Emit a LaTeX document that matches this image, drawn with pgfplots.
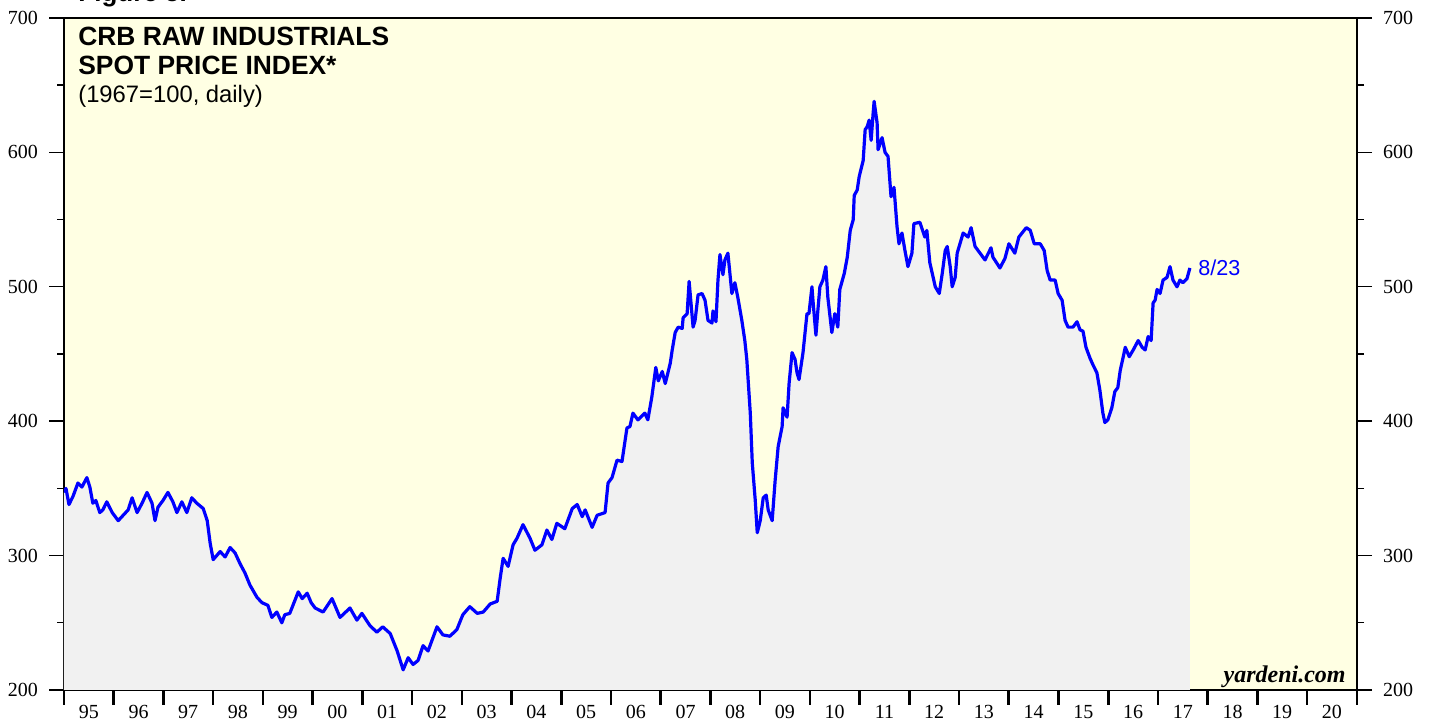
\documentclass[border=0pt]{standalone}
\usepackage{fontspec}
\setmainfont{Liberation Serif}
\newfontfamily\sansf{Liberation Sans}
\usepackage{pgfplots}
\usepackage{pgfplotstable}
\pgfplotsset{compat=1.18}
\definecolor{bgyellow}{RGB}{255,255,227}
\definecolor{fillgray}{RGB}{241,241,241}
\definecolor{lineblue}{RGB}{0,0,255}
\pgfplotstableread{
year val
1995.00 347
1995.04 350
1995.10 338
1995.18 344
1995.28 354
1995.36 351
1995.46 358
1995.52 351
1995.58 339
1995.64 341
1995.72 332
1995.78 334
1995.86 340
1995.97 332
1996.09 326
1996.19 330
1996.29 334
1996.37 343
1996.47 332
1996.57 339
1996.67 347
1996.77 339
1996.83 326
1996.89 336
1996.99 341
1997.09 347
1997.19 340
1997.27 332
1997.37 340
1997.47 332
1997.57 343
1997.67 339
1997.80 335
1997.88 326
1997.94 309
1998.00 297
1998.14 303
1998.24 299
1998.34 306
1998.44 302
1998.54 294
1998.64 287
1998.74 278
1998.88 269
1998.98 265
1999.10 263
1999.18 254
1999.28 258
1999.38 250
1999.44 256
1999.54 257
1999.71 273
1999.79 268
1999.89 272
1999.97 265
2000.05 261
2000.21 258
2000.39 268
2000.55 254
2000.75 261
2000.89 252
2000.99 257
2001.15 248
2001.29 243
2001.41 247
2001.56 242
2001.70 229
2001.82 215
2001.92 224
2002.02 219
2002.12 222
2002.22 233
2002.32 229
2002.50 247
2002.62 241
2002.76 240
2002.90 245
2003.02 256
2003.16 262
2003.31 257
2003.43 258
2003.57 264
2003.71 266
2003.77 283
2003.83 298
2003.93 292
2004.03 308
2004.11 313
2004.23 323
2004.37 313
2004.47 304
2004.61 308
2004.71 319
2004.81 312
2004.91 324
2005.07 320
2005.22 335
2005.32 338
2005.42 329
2005.48 334
2005.62 321
2005.72 330
2005.88 332
2005.94 354
2006.02 358
2006.12 371
2006.22 370
2006.32 395
2006.38 396
2006.44 406
2006.54 401
2006.68 406
2006.74 401
2006.82 418
2006.90 440
2006.95 430
2007.03 437
2007.09 428
2007.19 443
2007.23 453
2007.29 466
2007.35 470
2007.43 469
2007.45 477
2007.53 480
2007.57 504
2007.65 470
2007.69 475
2007.75 494
2007.83 495
2007.89 490
2007.95 475
2008.03 473
2008.05 482
2008.11 474
2008.15 505
2008.19 524
2008.25 509
2008.29 520
2008.35 525
2008.43 495
2008.49 503
2008.55 492
2008.63 475
2008.69 460
2008.73 446
2008.80 406
2008.84 369
2008.90 341
2008.94 317
2009.00 326
2009.06 343
2009.12 345
2009.16 334
2009.24 326
2009.30 356
2009.36 381
2009.44 396
2009.46 410
2009.54 403
2009.58 428
2009.64 451
2009.70 446
2009.74 436
2009.78 431
2009.86 451
2009.94 480
2009.98 480
2010.04 500
2010.06 490
2010.12 464
2010.16 483
2010.20 500
2010.26 505
2010.32 515
2010.36 492
2010.44 466
2010.50 480
2010.56 470
2010.60 498
2010.69 510
2010.75 522
2010.81 542
2010.87 550
2010.89 568
2010.95 572
2010.99 582
2011.07 594
2011.11 617
2011.15 619
2011.19 624
2011.23 609
2011.27 629
2011.29 638
2011.35 622
2011.37 602
2011.45 611
2011.51 600
2011.57 597
2011.63 567
2011.69 574
2011.75 545
2011.79 532
2011.85 540
2011.91 527
2011.97 515
2012.05 525
2012.09 547
2012.21 548
2012.31 537
2012.35 542
2012.41 518
2012.52 500
2012.60 495
2012.66 510
2012.72 527
2012.76 530
2012.82 515
2012.86 500
2012.92 507
2012.96 525
2013.08 540
2013.18 537
2013.24 544
2013.32 530
2013.42 525
2013.52 520
2013.64 529
2013.68 522
2013.82 514
2013.92 521
2014.00 532
2014.12 525
2014.20 537
2014.35 544
2014.43 542
2014.51 532
2014.63 532
2014.71 527
2014.77 512
2014.83 505
2014.93 505
2014.99 495
2015.07 490
2015.13 475
2015.19 470
2015.29 470
2015.37 474
2015.43 468
2015.49 467
2015.55 455
2015.63 447
2015.69 442
2015.77 436
2015.83 423
2015.89 406
2015.93 399
2015.99 401
2016.07 410
2016.13 422
2016.19 425
2016.24 438
2016.30 448
2016.34 455
2016.42 448
2016.50 453
2016.60 460
2016.68 455
2016.74 453
2016.80 463
2016.86 460
2016.90 488
2016.94 490
2016.98 498
2017.04 495
2017.10 505
2017.18 507
2017.24 515
2017.30 505
2017.38 500
2017.44 505
2017.50 503
2017.58 506
2017.64 514
}\crb
\begin{document}
\begin{tikzpicture}
\useasboundingbox (-32pt,-15.5pt) rectangle (682.5pt,345pt);
\pgfplotsset{
  common/.style={
    at={(0,0)}, anchor=south west,
    scale only axis, width=646.5pt, height=336pt,
    xmin=1995, xmax=2021, ymin=200, ymax=700,
    ytick={200,300,...,700},
    minor ytick={250,350,...,650},
    tick align=outside,
    major tick length=7.5pt, minor tick length=3.5pt,
    every tick/.style={black, line width=0.7pt},
    /pgf/number format/assume math mode=true,
    ticklabel style={font=\fontsize{10}{12}\selectfont},
  }
}
\begin{axis}[common,
    axis background/.style={fill=bgyellow},
    axis line style={line width=1.3pt},
    xtick={1995,...,2021},
    xticklabels={95,96,97,98,99,00,01,02,03,04,05,06,07,08,09,10,11,12,13,14,15,16,17,18,19,20,{}},
    xtick pos=bottom,
    xtick style={line width=1.3pt},
    xticklabel style={anchor=north, xshift=12.4pt, yshift=3.5pt},
    ytick pos=left,
    yticklabel pos=left,
    yticklabel style={xshift=-2pt},
    clip=true,
  ]
  \addplot[fill=fillgray, draw=none] table[x=year, y=val] {\crb} \closedcycle;
  \addplot[lineblue, line width=1.6pt, line join=round] table[x=year, y=val] {\crb};
  \node[anchor=base west, inner sep=0pt, font=\sansf\bfseries\fontsize{13.2}{15}\selectfont] at (axis cs:1995.28,679.2) {CRB RAW INDUSTRIALS};
  \node[anchor=base west, inner sep=0pt, font=\sansf\bfseries\fontsize{13.2}{15}\selectfont] at (axis cs:1995.28,657.6) {SPOT PRICE INDEX*};
  \node[anchor=base west, inner sep=0pt, font=\sansf\fontsize{11.9}{14}\selectfont] at (axis cs:1995.28,637.0) {(1967=100, daily)};
  \node[anchor=west, inner sep=0pt, text=lineblue, font=\sansf\fontsize{10.8}{13}\selectfont] at (axis cs:2017.64,514) {\hspace{4pt}8/23};
  \node[anchor=base east, inner sep=0pt, font=\bfseries\itshape\fontsize{12}{14}\selectfont] at (rel axis cs:1,0) [xshift=-5.5pt, yshift=3.5pt] {yardeni.com};
\end{axis}
\begin{axis}[common,
    axis x line=none,
    axis y line*=right,
    y axis line style={line width=1.3pt},
    yticklabel pos=right,
    yticklabel style={xshift=2pt},
  ]
\end{axis}
\node[anchor=base west, inner sep=0pt, font=\sansf\bfseries\fontsize{13}{15}\selectfont] at (7pt,344pt) {Figure 5.};
\end{tikzpicture}
\end{document}
